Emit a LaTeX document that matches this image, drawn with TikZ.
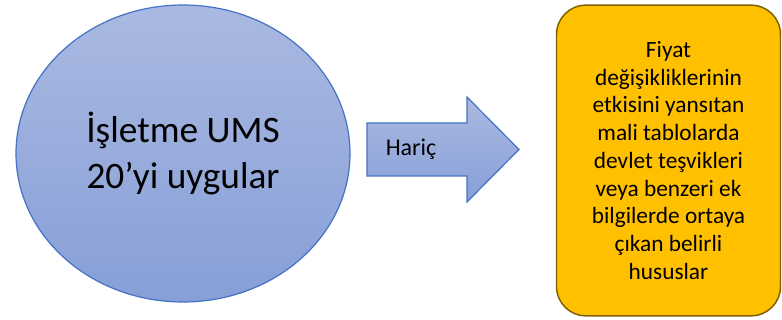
\documentclass[tikz,border=0pt]{standalone}
\usepackage{fontspec}
\setmainfont{Carlito}
\usetikzlibrary{shapes.geometric}
\definecolor{ellborder}{RGB}{68,114,196}
\definecolor{elltop}{RGB}{170,185,225}
\definecolor{ellbot}{RGB}{135,159,215}
\definecolor{boxfill}{RGB}{255,192,0}
\definecolor{boxborder}{RGB}{127,96,0}

\begin{document}
\begin{tikzpicture}[x=0.75pt,y=-0.75pt,
  bluefill/.style={draw=ellborder,line width=0.9pt,top color=elltop,bottom color=ellbot},
  ovalnode/.style={bluefill,ellipse,inner sep=0pt,minimum width=250.5pt,minimum height=222.75pt,
    align=center,font=\fontsize{28}{34}\selectfont},
  hususbox/.style={draw=boxborder,line width=1.1pt,fill=boxfill,rounded corners=22pt,
    minimum width=168pt,minimum height=233pt,align=center,font=\fontsize{17.5}{20.8}\selectfont}]
\useasboundingbox (0,0) rectangle (782,320);
\node[ovalnode] (isletme) at (183,153.5) {İşletme UMS\\20’yi uygular};
\draw[bluefill] (367,123) -- (467,123) -- (467,97) -- (519,149.5) -- (467,202) -- (467,176) -- (367,176) -- cycle;
\node[font=\fontsize{18}{22}\selectfont] (haric) at (411,149.5) {Hariç};
\node[hususbox] (hususlar) at (668.5,160.5) {Fiyat\\değişikliklerinin\\etkisini yansıtan\\mali tablolarda\\devlet teşvikleri\\veya benzeri ek\\bilgilerde ortaya\\çıkan belirli\\hususlar};
\end{tikzpicture}
\end{document}
